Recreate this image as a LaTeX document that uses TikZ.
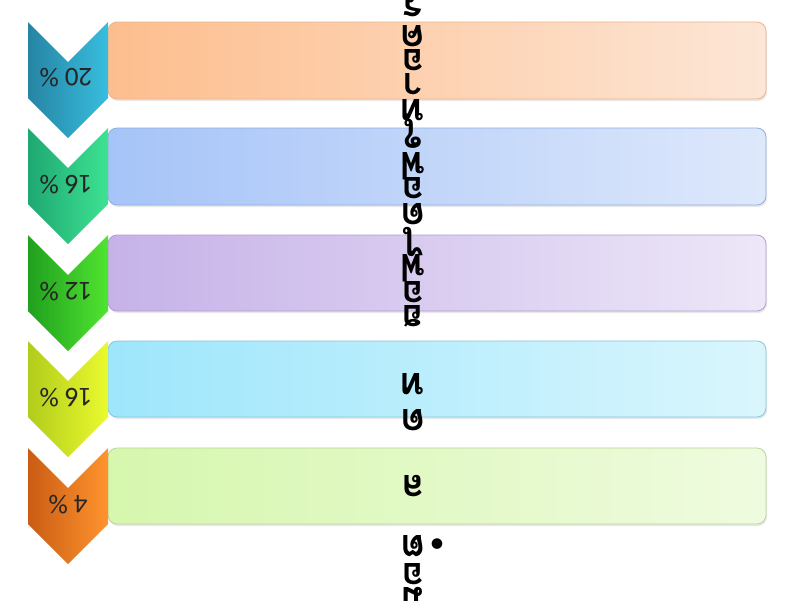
\documentclass[tikz,border=0pt]{standalone}
\usepackage{fontspec}
\setmainfont{Carlito}
\newfontfamily\thaifont[Script=Thai]{Loma}
\usetikzlibrary{shadows}
\definecolor{c1a}{HTML}{2684A4}\definecolor{c1b}{HTML}{38BEDE}
\definecolor{c2a}{HTML}{1EA872}\definecolor{c2b}{HTML}{3EE292}
\definecolor{c3a}{HTML}{20A01E}\definecolor{c3b}{HTML}{50E430}
\definecolor{c4a}{HTML}{B2CC1C}\definecolor{c4b}{HTML}{EAFA2E}
\definecolor{c5a}{HTML}{CA5C14}\definecolor{c5b}{HTML}{FF942E}
\definecolor{r1a}{HTML}{FDBE8E}\definecolor{r1b}{HTML}{FDE6D6}\definecolor{r1d}{HTML}{EDB48C}
\definecolor{r2a}{HTML}{A6C4F8}\definecolor{r2b}{HTML}{DEE8FB}\definecolor{r2d}{HTML}{90AEE0}
\definecolor{r3a}{HTML}{C6B2E8}\definecolor{r3b}{HTML}{EDE7F8}\definecolor{r3d}{HTML}{AE9ED0}
\definecolor{r4a}{HTML}{9EE6FC}\definecolor{r4b}{HTML}{DAF6FD}\definecolor{r4d}{HTML}{84C6DE}
\definecolor{r5a}{HTML}{D6F7AE}\definecolor{r5b}{HTML}{EFFBDF}\definecolor{r5d}{HTML}{B8D69A}
\tikzset{
  bar/.style={rounded corners=9pt, line width=0.8pt, drop shadow={opacity=0.18, shadow xshift=1pt, shadow yshift=-2pt}},
  chev/.style={draw=none},
  pct/.style={rotate=180, font=\fontsize{27}{27}\selectfont, text=black!85, inner sep=0pt},
  th/.style={rotate=180, font=\thaifont\bfseries\fontsize{38}{38}\selectfont, inner sep=0pt}
}
\begin{document}
\begin{tikzpicture}[x=1pt,y=-1pt]
\useasboundingbox (0,0) rectangle (800,600);
\fill[white] (0,0) rectangle (800,600);
% bars
\path[bar, left color=r1a, right color=r1b, draw=r1d] (108,22) rectangle (766,99);
\path[bar, left color=r2a, right color=r2b, draw=r2d] (108,128) rectangle (766,205);
\path[bar, left color=r3a, right color=r3b, draw=r3d] (108,235) rectangle (766,311);
\path[bar, left color=r4a, right color=r4b, draw=r4d] (108,341) rectangle (766,417);
\path[bar, left color=r5a, right color=r5b, draw=r5d] (108,448) rectangle (766,524);
% chevrons
\path[chev, left color=c1a, right color=c1b] (28,22) -- (68,62) -- (108,22) -- (108,98) -- (68,138) -- (28,98) -- cycle;
\path[chev, left color=c2a, right color=c2b] (28,128) -- (68,168) -- (108,128) -- (108,204) -- (68,244) -- (28,204) -- cycle;
\path[chev, left color=c3a, right color=c3b] (28,235) -- (68,275) -- (108,235) -- (108,311) -- (68,351) -- (28,311) -- cycle;
\path[chev, left color=c4a, right color=c4b] (28,341) -- (68,381) -- (108,341) -- (108,417) -- (68,457) -- (28,417) -- cycle;
\path[chev, left color=c5a, right color=c5b] (28,448) -- (68,488) -- (108,448) -- (108,524) -- (68,564) -- (28,524) -- cycle;
\node[pct] (p1) at (66,78) {20 \%};
\node[pct] (p2) at (66,185) {16 \%};
\node[pct] (p3) at (66,292) {12 \%};
\node[pct] (p4) at (66,398) {16 \%};
\node[pct] (p5) at (68,505) {4 \%};
% stacked upside-down Thai text
\node[th] (g1) at (413,6) {ร};
\node[th] (g2) at (413,36) {ค};
\node[th] (g3) at (413,60) {อ};
\node[th] (g4) at (413,84) {า};
\node[th] (g5) at (413,110) {ท};
\node[th] (g6) at (413,134) {ใ};
\node[th] (g7) at (413,166) {ฟ};
\node[th] (g8) at (413,188) {อ};
\node[th] (g9) at (413,214) {ด};
\node[th] (g10) at (413,242) {ไ};
\node[th] (g11) at (413,268) {ฟ};
\node[th] (g12) at (413,292) {อ};
\node[th] (g13) at (413,316) {ฮ};
\node[th] (g14) at (413,384) {ท};
\node[th] (g15) at (413,420) {ด};
\node[th] (g16) at (413,486) {ล};
\node[th] (g17) at (413,546) {ต};
\node[th] (g18) at (413,574) {อ};
\node[th] (g19) at (413,598) {ม};
\node[inner sep=0pt, font=\fontsize{30}{30}\selectfont] (b1) at (437,546) {\textbullet};
\end{tikzpicture}
\end{document}
